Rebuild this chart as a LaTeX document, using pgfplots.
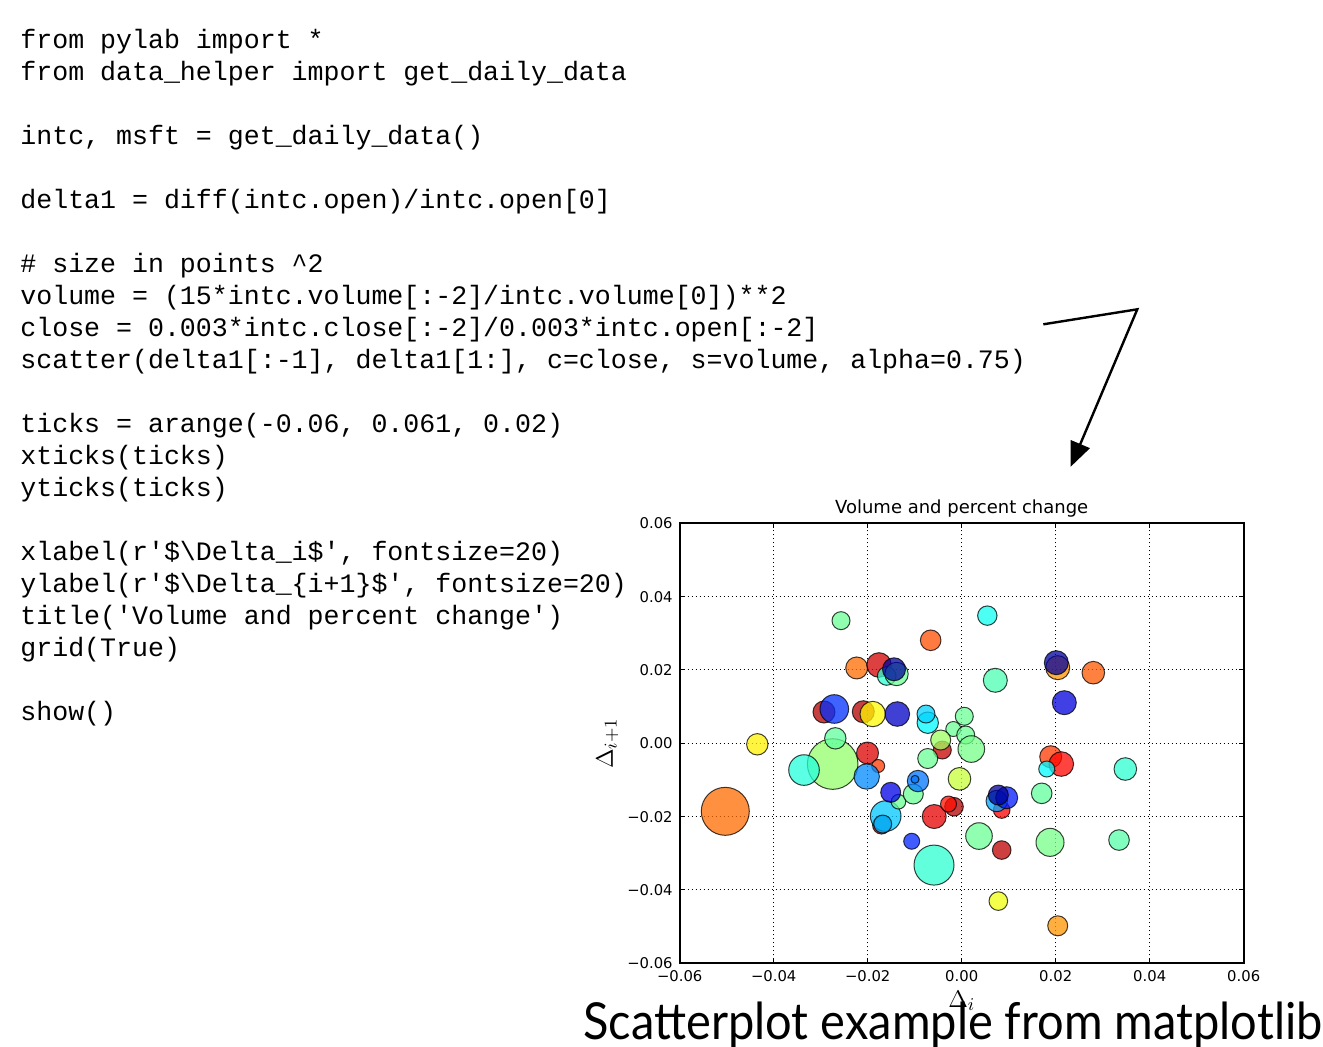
\documentclass[border=0pt]{standalone}
\usepackage{pgfplots}
\pgfplotsset{compat=1.18}
\usepackage{fontspec}
\usetikzlibrary{arrows.meta}
\setmonofont{Liberation Mono}
\newfontfamily\dejavu{DejaVu Sans}
\newfontfamily\capfont{Lato}
\begin{document}
\begin{tikzpicture}
\useasboundingbox (0,0) rectangle (661.5pt,-523pt);
\begin{scope}[x=0.5pt,y=-0.5pt,every node/.style={anchor=base west, inner sep=0pt, font=\ttfamily\fontsize{13.3}{16}\selectfont}]
\node at (20,48) {from pylab import *};
\node at (20,80) {from data\_helper import get\_daily\_data};
\node at (20,144) {intc, msft = get\_daily\_data()};
\node at (20,208) {delta1 = diff(intc.open)/intc.open[0]};
\node at (20,272) {\# size in points \textasciicircum 2};
\node at (20,304) {volume = (15*intc.volume[:-2]/intc.volume[0])**2};
\node at (20,336) {close = 0.003*intc.close[:-2]/0.003*intc.open[:-2]};
\node at (20,368) {scatter(delta1[:-1], delta1[1:], c=close, s=volume, alpha=0.75)};
\node at (20,432) {ticks = arange(-0.06, 0.061, 0.02)};
\node at (20,464) {xticks(ticks)};
\node at (20,496) {yticks(ticks)};
\node at (20,560) {xlabel(r'\$\textbackslash Delta\_i\$', fontsize=20)};
\node at (20,592) {ylabel(r'\$\textbackslash Delta\_\{i+1\}\$', fontsize=20)};
\node at (20,624) {title('Volume and percent change')};
\node at (20,656) {grid(True)};
\node at (20,720) {show()};
\draw[line width=1.2pt, line join=miter, -{Triangle[length=12.3pt,width=10.2pt]}] (1043.3,324.3) -- (1137.3,309.3) -- (1070.7,466.7);
\node[font=\capfont\fontsize{25.5}{30}\selectfont] at (583,1039) {\resizebox{369.5pt}{\height}{Scatterplot example from matplotlib}};
\end{scope}
\begin{axis}[
  at={(339.85pt,-481.65pt)}, anchor=south west,
  scale only axis, width=282pt, height=220pt,
  xmin=-0.06, xmax=0.06, ymin=-0.06, ymax=0.06,
  scaled ticks=false,
  xtick={-0.06,-0.04,-0.02,0,0.02,0.04,0.06},
  ytick={-0.06,-0.04,-0.02,0,0.02,0.04,0.06},
  xticklabels={−0.06,−0.04,−0.02,0.00,0.02,0.04,0.06},
  yticklabels={−0.06,−0.04,−0.02,0.00,0.02,0.04,0.06},
  tick align=inside, major tick length=2.5pt,
  every tick/.style={black, line width=0.5pt},
  grid=major,
  major grid style={black, line width=0.5pt, dash pattern=on 0.5pt off 1.5pt},
  axis line style={black, line width=1pt},
  ticklabel style={font=\dejavu\fontsize{7.4}{8}\selectfont},
  every axis title shift=0pt,
  title={Volume and percent change},
  title style={at={(axis description cs:0.5,1.0234)}, anchor=base, font=\dejavu\fontsize{9}{10}\selectfont},
  xlabel={$\Delta_i$},
  ylabel={$\Delta_{i+1}$},
  xlabel style={at={(axis description cs:0.5,-0.0995)}, anchor=base, font=\fontsize{13}{15}\selectfont},
  ylabel style={at={(axis description cs:-0.1183,0.5)}, anchor=base, rotate=0, font=\fontsize{13}{15}\selectfont},
  colormap/jet, point meta min=0, point meta max=1,
]
\addplot[scatter, only marks, mark=*,
  point meta=explicit,
  scatter/use mapped color={draw=black, fill=mapped color},
  visualization depends on={0.5*\thisrow{r} \as \msz},
  scatter/@pre marker code/.append style={/tikz/mark size=\msz},
  mark options={fill opacity=0.75, draw opacity=0.75, line width=0.5pt}]
table[x=x, y=y, meta=c] {
x y r c
-0.02568 0.03345 9 0.48
-0.00660 0.02810 10.3 0.80
-0.02234 0.02055 11 0.77
-0.01760 0.02136 12.3 0.92
-0.01596 0.01836 9.3 0.42
-0.01387 0.01891 11.7 0.48
-0.01440 0.02019 11.5 0.03
-0.02930 0.00854 11 0.95
-0.02711 0.00936 14.3 0.17
-0.02094 0.00862 11 0.95
-0.01894 0.00799 12.7 0.63
-0.01370 0.00799 12.3 0.07
-0.00723 0.00562 10.7 0.37
-0.00760 0.00799 9 0.33
0.00055 0.00737 9 0.48
-0.00179 0.00390 7.5 0.48
0.00085 0.00226 9 0.48
-0.00413 -0.00183 9 0.93
-0.00447 0.00090 10 0.53
0.00204 -0.00156 13.3 0.49
-0.04349 -0.00027 10.7 0.64
-0.02745 -0.00565 25.3 0.52
-0.02689 0.00136 10.7 0.47
-0.03355 -0.00729 15.3 0.41
-0.02004 -0.00265 11 0.91
-0.01777 -0.00619 6.5 0.82
-0.02021 -0.00906 12.7 0.26
-0.05030 -0.01855 24 0.77
-0.01706 -0.02229 9 0.90
-0.01617 -0.01984 15.3 0.32
-0.01681 -0.02202 9 0.30
-0.01345 -0.01593 7.3 0.48
-0.01511 -0.01337 10 0.10
-0.01030 -0.01383 10 0.48
-0.00930 -0.01029 10.7 0.24
-0.00994 -0.00982 4 0.24
-0.00723 -0.00415 10 0.48
-0.00585 -0.01997 12 0.90
-0.00164 -0.01730 9.3 0.95
-0.00281 -0.01656 8 0.86
-0.01064 -0.02671 8 0.16
-0.00589 -0.03321 20 0.42
-0.00047 -0.00969 11.3 0.57
0.00545 0.03482 9.7 0.39
0.00715 0.01719 12 0.45
0.02043 0.02063 12 0.73
0.02013 0.02199 12 0.03
0.02800 0.01926 11.3 0.79
0.02183 0.01108 12 0.09
0.01894 -0.00366 11 0.82
0.02119 -0.00565 12.3 0.87
0.01809 -0.00701 8 0.37
0.03481 -0.00701 11.3 0.42
0.01702 -0.01364 10.3 0.47
0.00851 -0.01820 8.3 0.88
0.00745 -0.01574 10.7 0.29
0.00957 -0.01484 11 0.15
0.00779 -0.01411 10 0.02
0.00368 -0.02529 13.3 0.48
0.00851 -0.02911 9.3 0.94
0.01879 -0.02701 14 0.49
0.03347 -0.02638 10.3 0.46
0.00779 -0.04303 9.3 0.61
0.02043 -0.04977 10 0.73
};
\end{axis}
\end{tikzpicture}
\end{document}
